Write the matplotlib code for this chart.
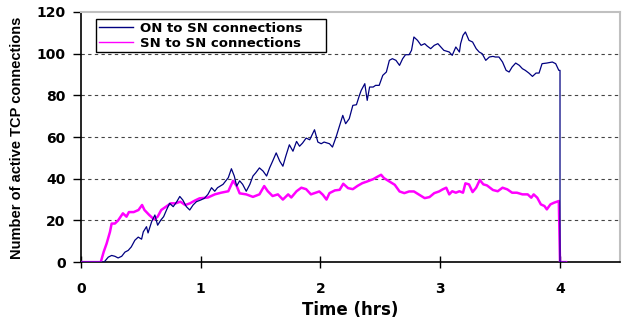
import matplotlib
matplotlib.use("Agg")
import matplotlib.pyplot as plt

# ---- data ----
on_t = [0, 0.19, 0.20, 0.228, 0.256, 0.283, 0.31, 0.34, 0.367, 0.394, 0.42, 0.45, 0.478, 0.506, 0.52,
        0.547, 0.56, 0.59, 0.617, 0.64, 0.667, 0.69, 0.714, 0.74, 0.77, 0.80, 0.825, 0.85, 0.88, 0.908,
        0.936, 0.964, 1.0, 1.03, 1.06, 1.09, 1.117, 1.14, 1.186, 1.23, 1.256, 1.28, 1.30, 1.325, 1.35,
        1.38, 1.41, 1.436, 1.46, 1.49, 1.52, 1.55, 1.575, 1.60, 1.63, 1.66, 1.686, 1.71, 1.74, 1.77,
        1.80, 1.825, 1.85, 1.88, 1.91, 1.95, 1.978, 2.006, 2.03, 2.075, 2.10, 2.13, 2.16, 2.186, 2.21,
        2.24, 2.27, 2.30, 2.325, 2.34, 2.37, 2.39, 2.41, 2.44, 2.46, 2.49, 2.52, 2.55, 2.575, 2.60,
        2.63, 2.66, 2.686, 2.71, 2.74, 2.76, 2.78, 2.81, 2.84, 2.87, 2.89, 2.92, 2.95, 2.98, 3.03,
        3.075, 3.10, 3.13, 3.16, 3.17, 3.19, 3.21, 3.24, 3.27, 3.30, 3.325, 3.35, 3.38, 3.41, 3.44,
        3.46, 3.49, 3.52, 3.55, 3.575, 3.60, 3.63, 3.66, 3.686, 3.71, 3.74, 3.77, 3.80, 3.825, 3.85,
        3.89, 3.936, 3.964, 3.99, 4.0, 4.0, 4.05]
on_v = [0, 0, 0.5, 2.4, 3.2, 2.8, 2, 2.8, 4.8, 5.6, 7.3, 10.5, 12, 11, 14.5,
        17, 14, 19.4, 22.6, 17.7, 20.2, 21.8, 25, 28.2, 26.6, 29, 31.5, 29.8, 26.6, 25,
        27.4, 29, 29.8, 30.6, 32.5, 35.7, 34, 35.7, 37.3, 40.5, 44.8, 41.3, 36.5, 39, 37.3,
        34, 37.3, 41.3, 42.9, 45.2, 43.7, 41.3, 45.2, 48.4, 52.4, 48.4, 46, 50.8, 56.3, 53.2,
        57.9, 55.6, 57.1, 59.5, 58.7, 63.5, 57.6, 56.8, 57.6, 56.8, 55.2, 60, 65.6, 70.4, 66.4,
        68.8, 75.2, 75.5, 80, 82.4, 85.6, 77.6, 84, 84, 84.8, 84.8, 89.6, 91.2, 96.8, 97.6,
        96.8, 94.4, 97.6, 99.5, 99.5, 101.6, 108, 106.4, 104, 104.8, 103.7, 102.4, 104, 104.8, 101.6,
        100.8, 99.2, 103.2, 100.8, 104.8, 108.8, 110.4, 106.4, 105.6, 102.4, 100.8, 100, 96.8, 98.4, 98.7,
        98.4, 98.4, 96, 92, 91.2, 93.6, 95.5, 94.4, 92.8, 92, 90.7, 89.1, 90.7, 90.7, 95.2,
        95.5, 96, 95.2, 92, 92, 0, 0]

sn_t = [0, 0.165, 0.19, 0.214, 0.242, 0.256, 0.283, 0.31, 0.35, 0.38, 0.40, 0.44, 0.48, 0.51, 0.53,
        0.57, 0.61, 0.64, 0.67, 0.71, 0.75, 0.79, 0.83, 0.87, 0.91, 0.95, 0.99, 1.06, 1.117, 1.17,
        1.23, 1.27, 1.30, 1.325, 1.38, 1.436, 1.49, 1.53, 1.56, 1.60, 1.644, 1.686, 1.73, 1.756, 1.80,
        1.84, 1.88, 1.92, 1.96, 1.99, 2.02, 2.05, 2.075, 2.12, 2.16, 2.19, 2.23, 2.27, 2.31, 2.35,
        2.39, 2.44, 2.48, 2.506, 2.53, 2.575, 2.62, 2.66, 2.70, 2.74, 2.78, 2.825, 2.87, 2.91, 2.95,
        2.99, 3.02, 3.05, 3.075, 3.10, 3.13, 3.16, 3.19, 3.21, 3.24, 3.27, 3.30, 3.33, 3.36, 3.39,
        3.44, 3.48, 3.52, 3.56, 3.60, 3.64, 3.686, 3.73, 3.76, 3.78, 3.81, 3.84, 3.87, 3.89, 3.92,
        3.95, 3.99, 4.0, 4.05]
sn_v = [0, 0, 5, 8.9, 14.5, 18.5, 18.5, 20, 23.4, 21.8, 24, 24, 25, 27.4, 25,
        22.6, 20.5, 21.8, 25, 26.6, 28.2, 28.2, 29, 27.4, 28.2, 29.5, 30.6, 31, 32.5, 33.3,
        34, 39, 36.5, 33, 32.5, 31.3, 32.5, 36.5, 34, 31.7, 32.5, 30, 32.5, 31, 34,
        35.7, 35, 32.5, 33.3, 33.9, 32.3, 30, 33.1, 34.4, 34.7, 37.6, 35.5, 35, 36.6, 37.9,
        38.7, 39.8, 41.1, 41.9, 40.3, 38.7, 37.1, 33.9, 33.1, 33.9, 33.9, 32.3, 30.7, 31.2, 33.1,
        33.9, 34.9, 35.7, 32.5, 34, 33.3, 34, 33.3, 37.8, 37.3, 33.6, 35.7, 39.4, 37.3, 36.8,
        34.6, 34, 35.7, 34.9, 33.3, 33.3, 32.5, 32.5, 30.9, 32.5, 30.9, 27.7, 26.9, 25.3, 27.7,
        28.5, 29.3, 0, 0]

x_ticks = [0, 1, 2, 3, 4]
y_ticks = [0, 20, 40, 60, 80, 100, 120]

# ---- figure ----
fig = plt.figure(figsize=(6.23, 3.24), dpi=100)
ax = fig.add_axes([0.130, 0.191, 0.865, 0.772])

ax.plot(sn_t, sn_v, color="#FF00FF", lw=1.8, label="SN to SN connections", zorder=3)
ax.plot(on_t, on_v, color="#000080", lw=0.9, label="ON to SN connections", zorder=4)

ax.set_xlim(0, 4.5)
ax.set_ylim(0, 120)
ax.set_xticks(x_ticks)
ax.set_yticks(y_ticks)
ax.set_xticklabels([str(v) for v in x_ticks], fontweight="bold", fontsize=10)
ax.set_yticklabels([str(v) for v in y_ticks], fontweight="bold", fontsize=10)
ax.tick_params(axis="x", direction="inout", length=8, width=1, pad=10)
ax.tick_params(axis="y", direction="out", length=6, width=1, pad=5)

for v in y_ticks[1:-1]:
    ax.axhline(v, color="#444444", lw=0.8, ls=(0, (3, 3)), zorder=1)

ax.spines["left"].set_color("black")
ax.spines["bottom"].set_color("black")
ax.spines["left"].set_linewidth(1.2)
ax.spines["bottom"].set_linewidth(1.2)
ax.spines["top"].set_color("#C0C0C0")
ax.spines["right"].set_color("#C0C0C0")
ax.spines["top"].set_linewidth(1.5)
ax.spines["right"].set_linewidth(1.5)

handles, labels = ax.get_legend_handles_labels()
leg = ax.legend(handles[::-1], labels[::-1], loc="upper left",
                bbox_to_anchor=(0.028, 0.972, 0.427, 0.0), mode="expand",
                prop={"weight": "bold", "size": 9.5}, frameon=True, fancybox=False,
                edgecolor="black", framealpha=1, handlelength=2.6, handletextpad=0.5,
                borderpad=0.2, labelspacing=0.15, borderaxespad=0)
leg.get_frame().set_linewidth(1.0)
for h in leg.get_lines():
    h.set_linewidth(1.0)

ax.set_xlabel("Time (hrs)", fontweight="bold", fontsize=12, labelpad=4)
fig.text(0.027, 0.575, "Number of active TCP connections", rotation=90, ha="center", va="center",
         fontsize=10.5, fontweight="bold", family=["Liberation Sans", "DejaVu Sans"])

fig.savefig("out.png", dpi=100)
